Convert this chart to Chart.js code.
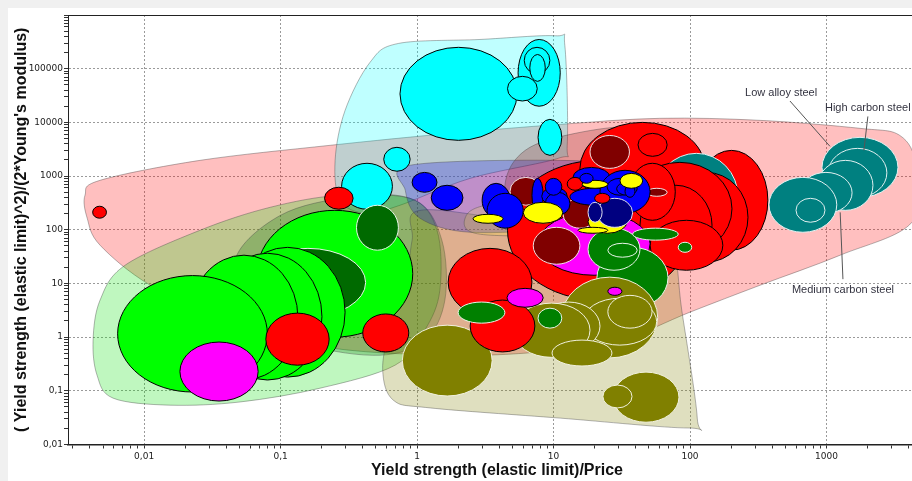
<!DOCTYPE html>
<html>
<head>
<meta charset="utf-8">
<script src="https://cdn.jsdelivr.net/npm/chart.js@4.4.1/dist/chart.umd.min.js"></script>
<style>
  html, body { margin: 0; padding: 0; background: #f0f0f0; overflow: hidden; width: 912px; height: 481px; }
  #wrap { position: absolute; left: 8px; top: 8px; width: 918px; height: 473px; background: #ffffff; }
  canvas { display: block; }
</style>
</head>
<body>
<div id="wrap"><canvas id="chart" width="918" height="473"></canvas></div>
<script>
// Axis ranges and labelled ticks
const xRange = [0.00277, 5360];
const yRange = [0.01, 1e6];
const xTickValues = [0.01, 0.1, 1, 10, 100, 1000];
const xTickLabels = ['0,01', '0,1', '1', '10', '100', '1000'];
const yTickValues = [0.01, 0.1, 1, 10, 100, 1000, 10000, 100000];
const yTickLabels = ['0,01', '0,1', '1', '10', '100', '1000', '10000', '100000'];

// Family envelopes: [strength/price, energy] outline vertices
const hullRed = [[0.00369, 439], [0.00476, 833], [0.0257, 1960], [0.231, 3740], [1.74, 6240], [11.2, 9180],
  [60, 11900], [326, 10900], [1760, 7740], [3450, 5700], [4520, 1590], [4230, 138], [1260, 33.6], [326, 9.26],
  [100, 2.92], [30.7, 0.88], [7.97, 0.53], [1.74, 0.46], [0.242, 0.62], [0.0449, 1.67], [0.0111, 9.26],
  [0.00476, 51.5], [0.00383, 164]];
const hullCyan = [[0.452, 131000], [0.73, 295000], [2.89, 350000], [10.3, 410000], [12.1, 271000], [12.6, 3740],
  [10.8, 2140], [2.45, 906], [0.75, 286], [0.42, 203], [0.273, 354], [0.251, 1960], [0.297, 16700]];
const hullLime = [[0.00423, 0.88], [0.00476, 4.9], [0.00725, 21.8], [0.0257, 97.9], [0.084, 262], [0.273, 439],
  [0.89, 385], [1.40, 97.9], [1.47, 7.5], [1.14, 1.35], [0.69, 0.30], [0.195, 0.112], [0.0505, 0.062],
  [0.0155, 0.054], [0.00593, 0.073], [0.00452, 0.196]];
const hullGreen = [[0.0464, 27.1], [0.1, 186], [0.323, 402], [0.97, 354], [1.52, 63.8], [1.6, 4.9], [1.14, 0.88],
  [0.535, 0.46], [0.164, 0.71], [0.065, 2.57]];
const hullOlive = [[1.05, 230], [5.67, 150], [43, 107], [74, 45], [87, 3.18], [113, 0.031], [97, 0.0203],
  [11.2, 0.031], [1.25, 0.048], [0.67, 0.067], [0.56, 0.243], [0.63, 1.35], [0.82, 9.26], [0.92, 63.8]];
const hullBlue = [[0.89, 1590], [11.2, 1960], [23.8, 1390], [26.8, 354], [11.2, 116], [2.45, 89.8], [1.05, 164], [0.82, 543]];
const hullMaroon = [[4.4, 674], [6.2, 3010], [14.4, 6240], [43, 8410], [92, 4630], [118, 543], [84, 63.8],
  [36, 16.2], [10.3, 17.6], [5.2, 63.8]];
const hullYellow = [[2.25, 164], [3.15, 286], [11.2, 439], [43, 1390], [52.7, 674], [30.7, 79], [7.97, 76], [2.66, 86]];

// Materials, back to front: [family, x low, x high, y low, y high]
const bubbles = [
  ['lime', 0.067, 0.93, 1.0, 230],
  ['dkgreen', 0.060, 0.42, 2.4, 45],
  ['lime', 0.0427, 0.297, 0.18, 47],
  ['lime', 0.032, 0.201, 0.159, 36.5],
  ['lime', 0.0217, 0.134, 0.159, 33.6],
  ['lime', 0.0064, 0.080, 0.095, 14],
  ['magenta', 0.0183, 0.0685, 0.0645, 0.81],
  ['red', 0.078, 0.227, 0.30, 2.8],
  ['olive', 0.78, 3.55, 0.08, 1.67],
  ['red', 0.40, 0.87, 0.53, 2.7],
  ['cyan', 0.28, 0.66, 241, 1730],
  ['cyan', 0.57, 0.89, 1230, 3430],
  ['red', 0.21, 0.34, 241, 619],
  ['dkgreen', 0.36, 0.73, 41.6, 286],
  ['red', 0.0042, 0.0053, 164, 274],
  ['cyan', 0.75, 5.4, 4630, 250000],
  ['cyan', 5.5, 11.2, 20000, 350000],
  ['cyan', 6.1, 9.4, 81000, 250000],
  ['cyan', 6.7, 8.7, 58000, 184000],
  ['cyan', 4.6, 7.6, 25000, 72000],
  ['cyan', 7.7, 11.5, 2430, 11400],
  ['blue', 0.92, 1.40, 499, 1170],
  ['blue', 1.27, 2.17, 230, 674],
  ['red', 4.6, 100, 4.9, 1960],
  ['red', 15.6, 129, 186, 10000],
  ['maroon', 18.5, 36, 1390, 5700],
  ['red', 41.6, 68, 2330, 6240],
  ['red', 109, 372, 41.6, 3010],
  ['teal', 55, 225, 63.8, 2650],
  ['red', 65.5, 266, 24.9, 1170],
  ['red', 35, 203, 33.6, 1800],
  ['red', 43, 145, 21.8, 674],
  ['red', 51, 174, 17.6, 150],
  ['green', 82, 103, 38, 58.5],
  ['red', 36, 78, 150, 1730],
  ['maroon', 48, 68, 420, 592],
  ['red', 1.69, 6.95, 2.46, 45],
  ['magenta', 7.7, 51, 14.2, 211],
  ['maroon', 7.1, 15.6, 22.8, 111],
  ['green', 20.8, 69, 3.46, 47],
  ['green', 17.9, 43, 17.6, 107],
  ['green', 25, 41, 30.8, 56],
  ['green', 38, 82, 64, 107],
  ['olive', 11.5, 58, 0.41, 13.1],
  ['olive', 16.4, 57, 0.71, 5.3],
  ['olive', 25, 52.7, 1.47, 6.0],
  ['olive', 7.6, 21.9, 0.57, 4.5],
  ['olive', 5.05, 18.5, 0.42, 4.3],
  ['olive', 9.75, 26.8, 0.29, 0.88],
  ['green', 7.7, 11.5, 1.47, 3.46],
  ['magenta', 25, 31.7, 6.0, 8.5],
  ['red', 2.45, 7.3, 0.53, 4.9],
  ['green', 2.0, 4.4, 1.82, 4.5],
  ['magenta', 4.56, 8.4, 3.6, 8.1],
  ['olive', 27.3, 83, 0.026, 0.223],
  ['olive', 23, 37.6, 0.048, 0.128],
  ['maroon', 4.8, 8.2, 286, 945],
  ['maroon', 11.7, 20.8, 107, 385],
  ['blue', 3.0, 4.8, 171, 733],
  ['blue', 3.26, 6.0, 107, 477],
  ['blue', 6.95, 8.4, 211, 906],
  ['blue', 8.2, 12.6, 286, 619],
  ['blue', 8.7, 13.2, 186, 499],
  ['blue', 8.7, 11.5, 439, 906],
  ['blue', 13.9, 25.9, 619, 1450],
  ['blue', 13.2, 29.7, 286, 592],
  ['blue', 21.9, 51, 203, 1280],
  ['blue', 24.7, 38, 439, 906],
  ['blue', 29, 41, 439, 765],
  ['blue', 33.4, 39.5, 402, 674],
  ['yellow', 6.0, 11.7, 132, 325],
  ['yellow', 2.57, 4.27, 132, 194],
  ['red', 12.6, 16.4, 543, 945],
  ['yellow', 16.2, 25, 592, 833],
  ['blue', 15.6, 19.5, 733, 1120],
  ['yellow', 30.7, 45, 592, 1120],
  ['yellow', 17.9, 34.5, 86, 230],
  ['navy', 20.8, 38, 111, 385],
  ['navy', 17.9, 22.7, 138, 325],
  ['red', 20, 25.9, 311, 477],
  ['yellow', 15.1, 25, 86, 111],
  ['teal', 927, 3340, 402, 5260],
  ['teal', 1030, 2770, 402, 3280],
  ['teal', 866, 2190, 230, 1960],
  ['teal', 638, 1540, 203, 1170],
  ['teal', 379, 1190, 89.8, 945],
  ['teal', 598, 975, 138, 385]
];

// Callout labels for the steels
const noteTexts = ['Low alloy steel', 'High carbon steel', 'Medium carbon steel'];
const noteAnchors = [[253, 34600], [975, 18200], [558, 7.5]];
const noteLeaders = [[[540, 25000], [1060, 3580]], [[2010, 12900], [1880, 3010]], [[1320, 12], [1260, 211]]];

const familyStyle = {
  red: { fill: '#ff0000', stroke: '#000000' },
  lime: { fill: '#00ff00', stroke: '#000000' },
  dkgreen: { fill: '#006a00', stroke: '#e8f5e8' },
  green: { fill: '#008000', stroke: '#e8f5e8' },
  magenta: { fill: '#ff00ff', stroke: '#000000' },
  maroon: { fill: '#800000', stroke: '#f0e0e0' },
  cyan: { fill: '#00ffff', stroke: '#000000' },
  blue: { fill: '#0000ff', stroke: '#000000' },
  navy: { fill: '#000080', stroke: '#e0e0f0' },
  yellow: { fill: '#ffff00', stroke: '#000000' },
  olive: { fill: '#808000', stroke: '#f0f0dc' },
  teal: { fill: '#008080', stroke: '#e0f0f0' }
};

const hullLayers = [
  { pts: hullRed, fill: 'rgba(255,0,0,0.25)' },
  { pts: hullCyan, fill: 'rgba(0,255,255,0.25)' },
  { pts: hullLime, fill: 'rgba(0,224,0,0.25)' },
  { pts: hullGreen, fill: 'rgba(0,110,0,0.25)' },
  { pts: hullOlive, fill: 'rgba(128,128,0,0.25)' },
  { pts: hullBlue, fill: 'rgba(0,0,230,0.25)' },
  { pts: hullMaroon, fill: 'rgba(128,0,0,0.22)' },
  { pts: hullYellow, fill: 'rgba(255,255,0,0.15)' }
];

function isMajor(v, majors) {
  return majors.some(m => Math.abs(v / m - 1) < 1e-6);
}
function labelFor(v, majors, labels) {
  const i = majors.findIndex(m => Math.abs(v / m - 1) < 1e-6);
  return i >= 0 ? labels[i] : '';
}
function tickList(majors, range) {
  const out = [];
  const e0 = Math.round(Math.log10(majors[0])) - 1;
  const e1 = Math.round(Math.log10(majors[majors.length - 1])) + 1;
  for (let e = e0; e <= e1; e++) {
    for (let m = 1; m <= 9; m++) {
      const v = m * Math.pow(10, e);
      if (v >= range[0] * 0.9999 && v <= range[1] * 1.0001) out.push(v);
    }
  }
  return out;
}

function hullPath(ctx, pts) {
  const n = pts.length;
  ctx.beginPath();
  ctx.moveTo(pts[0][0], pts[0][1]);
  for (let i = 0; i < n; i++) {
    const p0 = pts[(i - 1 + n) % n], p1 = pts[i], p2 = pts[(i + 1) % n], p3 = pts[(i + 2) % n];
    ctx.bezierCurveTo(
      p1[0] + (p2[0] - p0[0]) / 6, p1[1] + (p2[1] - p0[1]) / 6,
      p2[0] - (p3[0] - p1[0]) / 6, p2[1] - (p3[1] - p1[1]) / 6,
      p2[0], p2[1]);
  }
  ctx.closePath();
}

const bubbleMap = {
  id: 'bubbleMap',
  beforeDatasetsDraw(chart) {
    const { ctx, chartArea: a, scales: { x, y } } = chart;
    ctx.save();
    ctx.beginPath();
    ctx.rect(a.left, a.top, a.right - a.left, a.bottom - a.top);
    ctx.clip();
    hullLayers.forEach(h => {
      const pts = h.pts.map(p => [x.getPixelForValue(p[0]), y.getPixelForValue(p[1])]);
      hullPath(ctx, pts);
      ctx.fillStyle = h.fill;
      ctx.fill();
      ctx.lineWidth = 1;
      ctx.strokeStyle = 'rgba(70,70,70,0.4)';
      ctx.stroke();
    });
    bubbles.forEach(b => {
      const st = familyStyle[b[0]];
      const x1 = x.getPixelForValue(b[1]), x2 = x.getPixelForValue(b[2]);
      const y1 = y.getPixelForValue(b[3]), y2 = y.getPixelForValue(b[4]);
      ctx.beginPath();
      ctx.ellipse((x1 + x2) / 2, (y1 + y2) / 2, Math.abs(x2 - x1) / 2, Math.abs(y2 - y1) / 2, 0, 0, Math.PI * 2);
      ctx.fillStyle = st.fill;
      ctx.fill();
      ctx.lineWidth = 1;
      ctx.strokeStyle = st.stroke;
      ctx.stroke();
    });
    ctx.restore();
  },
  afterDatasetsDraw(chart) {
    const { ctx, chartArea: a, scales: { x, y } } = chart;
    ctx.save();
    // top frame of the plot
    ctx.strokeStyle = '#222';
    ctx.lineWidth = 1;
    ctx.beginPath();
    ctx.moveTo(a.left, a.top + 0.5);
    ctx.lineTo(a.right, a.top + 0.5);
    ctx.stroke();
    // steel callouts
    ctx.strokeStyle = '#555';
    noteLeaders.forEach(l => {
      ctx.beginPath();
      ctx.moveTo(x.getPixelForValue(l[0][0]), y.getPixelForValue(l[0][1]));
      ctx.lineTo(x.getPixelForValue(l[1][0]), y.getPixelForValue(l[1][1]));
      ctx.stroke();
    });
    ctx.fillStyle = '#333340';
    ctx.font = '11px "Liberation Sans", Arial, sans-serif';
    ctx.textAlign = 'left';
    ctx.textBaseline = 'middle';
    noteTexts.forEach((t, i) => {
      ctx.fillText(t, x.getPixelForValue(noteAnchors[i][0]), y.getPixelForValue(noteAnchors[i][1]));
    });
    ctx.restore();
  }
};

const tickFont = { family: '"DejaVu Sans", sans-serif', size: 9 };
const titleFont = { family: '"Liberation Sans", Arial, sans-serif', size: 16, weight: 'bold', lineHeight: 1.2 };

new Chart(document.getElementById('chart'), {
  type: 'scatter',
  data: { datasets: [] },
  options: {
    responsive: false,
    animation: false,
    devicePixelRatio: 1,
    layout: { padding: { top: 7, left: 0, right: 0, bottom: 0 } },
    plugins: { legend: { display: false }, tooltip: { enabled: false } },
    scales: {
      x: {
        type: 'logarithmic', position: 'bottom', min: xRange[0], max: xRange[1], bounds: 'data',
        afterBuildTicks: s => { s.ticks = tickList(xTickValues, xRange).map(v => ({ value: v })); },
        afterFit: s => { s.height = 36.5; },
        ticks: { autoSkip: false, maxRotation: 0, minRotation: 0, padding: 3, color: '#222', font: tickFont,
          callback: v => labelFor(v, xTickValues, xTickLabels) },
        grid: { color: c => (c.tick && isMajor(c.tick.value, xTickValues)) ? '#9a9a9a' : 'rgba(0,0,0,0)',
          lineWidth: 1, drawTicks: true, tickLength: 4, tickColor: '#333', tickWidth: 1 },
        border: { display: true, color: '#222', width: 1.5, dash: [2, 2] },
        title: { display: true, text: 'Yield strength (elastic limit)/Price', color: '#111', font: titleFont,
          padding: { top: 0, bottom: 0.4 } }
      },
      y: {
        type: 'logarithmic', position: 'left', min: yRange[0], max: yRange[1], bounds: 'data',
        afterBuildTicks: s => { s.ticks = tickList(yTickValues, yRange).map(v => ({ value: v })); },
        afterFit: s => { s.width = 60; },
        ticks: { autoSkip: false, padding: 1, color: '#222', font: tickFont,
          callback: v => labelFor(v, yTickValues, yTickLabels) },
        grid: { color: c => (c.tick && isMajor(c.tick.value, yTickValues)) ? '#9a9a9a' : 'rgba(0,0,0,0)',
          lineWidth: 1, drawTicks: true, tickLength: 4, tickColor: '#333', tickWidth: 1 },
        border: { display: true, color: '#222', width: 1, dash: [2, 2] },
        title: { display: true, text: "( Yield strength (elastic limit)^2)/(2*Young's modulus)", color: '#111',
          font: titleFont, padding: { top: 4.4, bottom: 0 } }
      }
    }
  },
  plugins: [bubbleMap]
});
</script>
</body>
</html>
